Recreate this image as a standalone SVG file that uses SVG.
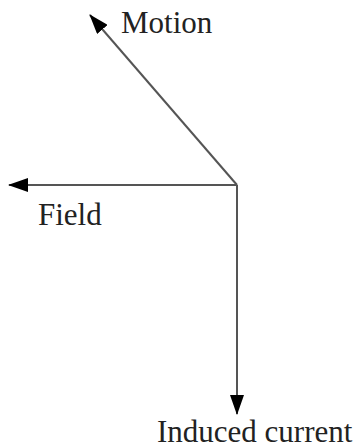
<svg xmlns="http://www.w3.org/2000/svg" width="363" height="446" viewBox="0 0 363 446">
<style>
.l{stroke:#555;stroke-width:2;fill:none}
.t{font-family:"Liberation Serif",serif;font-size:31px;fill:#222}
</style>
<defs>
<marker id="ah" viewBox="0 0 20 14" refX="19" refY="7" markerWidth="20" markerHeight="14" markerUnits="userSpaceOnUse" orient="auto">
<path d="M0,0 L20,7 L0,14 Z" fill="#000"/>
</marker>
</defs>
<rect width="363" height="446" fill="#fff"/>
<g id="connectors">
<line class="l" x1="237" y1="185" x2="90" y2="15" marker-end="url(#ah)"/>
<line class="l" x1="237" y1="185" x2="9" y2="185" marker-end="url(#ah)"/>
<line class="l" x1="237" y1="185" x2="237" y2="414" marker-end="url(#ah)"/>
</g>
<g id="motion"><text class="t" x="121" y="33">Motion</text></g>
<g id="field"><text class="t" x="38" y="225">Field</text></g>
<g id="current"><text class="t" x="157" y="442">Induced current</text></g>
</svg>
